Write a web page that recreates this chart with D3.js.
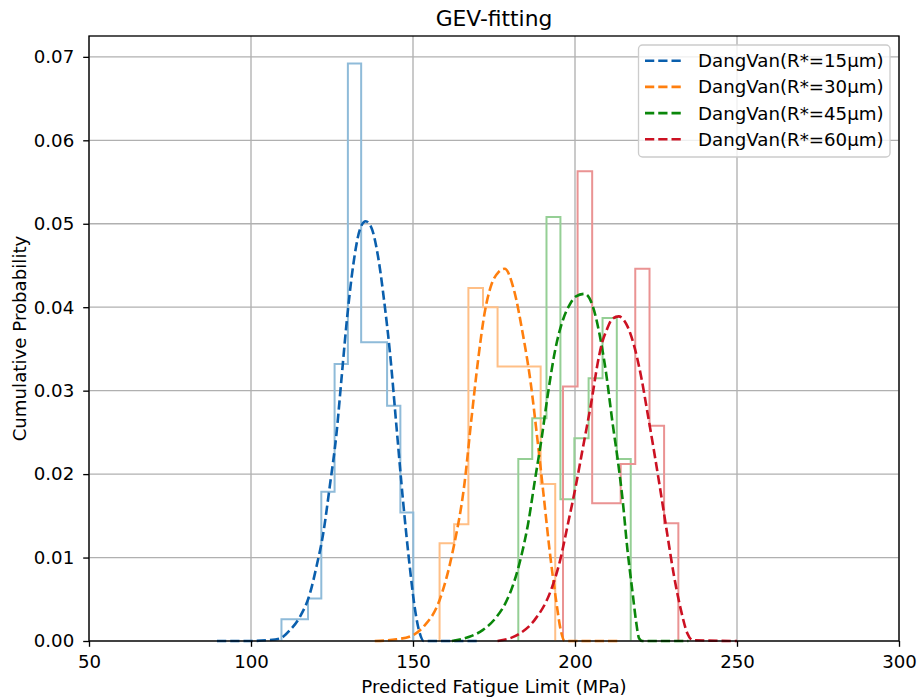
<!DOCTYPE html>
<html><head><meta charset="utf-8">
<script src="https://cdn.jsdelivr.net/npm/d3@7"></script>
<style>body{margin:0;background:#fff}svg text{font-family:"DejaVu Sans",sans-serif;fill:#000}</style>
</head><body><svg id="c" width="919" height="699"></svg>
<script>
// ---- data ----
const seriesNames = ["DangVan(R*=15μm)","DangVan(R*=30μm)","DangVan(R*=45μm)","DangVan(R*=60μm)"];
const curveColors = ["#0a5fad","#ff7f0e","#0a870a","#cc1122"];
const histColors  = ["#8fbbd9","#ffbf86","#95cf95","#ea9393"];

const blueEdges   = [109.4,113.5,117.6,121.7,125.8,129.9,134.0,138.0,142.0,146.1,150.1];
const blueDensity = [0.0026,0.0026,0.0051,0.0179,0.0332,0.0692,0.0358,0.0358,0.0282,0.0154];
const orangeEdges   = [158.2,162.7,167.1,171.6,176.1,180.5,185.0,189.4,193.9];
const orangeDensity = [0.0117,0.0140,0.0423,0.0400,0.0329,0.0329,0.0329,0.0188];
const greenEdges   = [182.5,186.8,191.2,195.5,199.8,204.2,208.5,212.9,217.2];
const greenDensity = [0.0218,0.0267,0.0508,0.0170,0.0243,0.0315,0.0387,0.0218];
const redEdges   = [196.3,200.8,205.3,209.7,214.1,218.6,223.0,227.5,231.9];
const redDensity = [0.0305,0.0563,0.0165,0.0165,0.0212,0.0446,0.0258,0.0141];

const blueCurveX = [89.5,100,105,108.9,112.0,115.1,118.2,120.2,122.3,124.3,126.4,127.9,129.5,131.5,133.6,135.4,137.2,139.2,141.3,142.8,144.9,146.9,149.0,150.5,152.1,153.3,160,170];
const blueCurveY = [0,0,0.0001,0.0003,0.0013,0.0029,0.0057,0.0089,0.0129,0.0185,0.0249,0.0313,0.0381,0.0449,0.0493,0.0503,0.0495,0.0461,0.0401,0.0349,0.0257,0.0169,0.0089,0.0041,0.0009,0,0,0];
const orangeCurveX = [138.2,144.9,150.0,153.2,158.3,162.4,165.9,168.0,170.1,172.1,174.2,176.4,178.3,181.2,183.8,186.3,188.3,190.25,192.15,194.15,195.6,196.8,205,214];
const orangeCurveY = [0,0.0002,0.0007,0.0017,0.0050,0.0110,0.0189,0.0265,0.0337,0.0393,0.0427,0.0442,0.0446,0.0420,0.0370,0.0310,0.0245,0.0177,0.0109,0.0049,0.0013,0,0,0];
const greenCurveX = [162,167.4,171.5,175.6,178.5,181.3,183.5,185.5,187.6,189.7,191.6,193.9,196.3,198.2,200.3,203.0,205.5,207.5,209.6,211.6,213.2,214.7,216.2,217.8,218.8,219.8,220.8,235];
const greenCurveY = [0,0.0005,0.0013,0.0028,0.0045,0.0072,0.0103,0.0140,0.0192,0.0243,0.0295,0.0349,0.0385,0.0402,0.0413,0.0416,0.0401,0.0369,0.0321,0.0261,0.0217,0.0169,0.0109,0.0057,0.0025,0.0003,0,0];
const redCurveX = [176.1,183.0,187.5,192.5,195.3,197.8,200.2,202.6,205.2,207.0,208.2,209.8,211.5,213.5,216.2,218.3,220.4,222.4,224.5,226.5,228.6,230.6,232.7,234.7,236.3,250];
const redCurveY = [0,0.0009,0.0025,0.0060,0.0095,0.0140,0.0185,0.0235,0.0290,0.0333,0.0355,0.0373,0.0386,0.0389,0.0377,0.0353,0.0317,0.0273,0.0225,0.0177,0.0125,0.0077,0.0037,0.0009,0.0001,0];

const xTicks = [50,100,150,200,250,300];
const yTicks = [0,0.01,0.02,0.03,0.04,0.05,0.06,0.07];
const titleText = "GEV-fitting";
const xLabel = "Predicted Fatigue Limit (MPa)";
const yLabel = "Cumulative Probability";

// ---- layout ----
const L=89,R=899,T=36,B=641;
const x = d3.scaleLinear().domain([50,300]).range([L,R]);
const y = d3.scaleLinear().domain([0,0.0725]).range([B,T]);
const svg = d3.select("#c");
const FS = 18.2;

// grid
const g = svg.append("g");
g.selectAll(".gx").data(xTicks).join("line")
  .attr("x1",d=>x(d)).attr("x2",d=>x(d)).attr("y1",T).attr("y2",B)
  .attr("stroke","#b0b0b0").attr("stroke-width",1.33);
g.selectAll(".gy").data(yTicks).join("line")
  .attr("x1",L).attr("x2",R).attr("y1",d=>y(d)).attr("y2",d=>y(d))
  .attr("stroke","#b0b0b0").attr("stroke-width",1.33);

// histograms (step)
const hists = [[blueEdges,blueDensity],[orangeEdges,orangeDensity],[greenEdges,greenDensity],[redEdges,redDensity]];
hists.forEach(([e,d],i)=>{
  const pts=[[e[0],0]];
  d.forEach((v,k)=>{pts.push([e[k],v]);pts.push([e[k+1],v]);});
  pts.push([e[e.length-1],0]);
  svg.append("path")
    .attr("d",d3.line().x(p=>x(p[0])).y(p=>y(p[1]))(pts))
    .attr("fill","none").attr("stroke",histColors[i]).attr("stroke-width",2)
    .attr("stroke-linejoin","miter");
});

// curves
const curves = [[blueCurveX,blueCurveY],[orangeCurveX,orangeCurveY],[greenCurveX,greenCurveY],[redCurveX,redCurveY]];
const lineGen = d3.line().x(p=>x(p[0])).y(p=>y(p[1])).curve(d3.curveMonotoneX);
curves.forEach(([cx,cy],i)=>{
  const pts = cx.map((v,k)=>[v,cy[k]]);
  svg.append("path").attr("d",lineGen(pts))
    .attr("fill","none").attr("stroke",curveColors[i]).attr("stroke-width",2.6)
    .attr("stroke-dasharray","9.25,4");
});

// frame
svg.append("rect").attr("x",L).attr("y",T).attr("width",R-L).attr("height",B-T)
  .attr("fill","none").attr("stroke","#000").attr("stroke-width",1.33);

// axes
const xa = svg.append("g").attr("transform",`translate(0,${B})`)
  .call(d3.axisBottom(x).tickValues(xTicks).tickSize(5.8).tickPadding(6).tickFormat(d3.format("d")));
const ya = svg.append("g").attr("transform",`translate(${L},0)`)
  .call(d3.axisLeft(y).tickValues(yTicks).tickSize(5.8).tickPadding(9).tickFormat(d3.format(".2f")));
[xa,ya].forEach(a=>{
  a.select(".domain").remove();
  a.selectAll(".tick line").attr("stroke","#000").attr("stroke-width",1.33);
  a.selectAll(".tick text").attr("font-size",FS).attr("font-family","DejaVu Sans").attr("fill","#000");
});
xa.selectAll(".tick text").attr("dy",null).attr("y",26.5).attr("dominant-baseline","auto");

// labels
svg.append("text").attr("x",(L+R)/2).attr("y",26).attr("text-anchor","middle")
  .attr("font-size",21.8).text(titleText);
svg.append("text").attr("x",(L+R)/2).attr("y",693).attr("text-anchor","middle")
  .attr("font-size",FS).text(xLabel);
svg.append("text").attr("transform",`translate(25.5,${(T+B)/2}) rotate(-90)`)
  .attr("text-anchor","middle").attr("font-size",FS).text(yLabel);

// legend
const lg = svg.append("g");
lg.append("rect").attr("x",638.5).attr("y",45).attr("width",251.5).attr("height",112).attr("rx",4)
  .attr("fill","#fff").attr("fill-opacity",0.8).attr("stroke","#cccccc").attr("stroke-width",1.33);
seriesNames.forEach((n,i)=>{
  const cy = 60.7 + i*26.2;
  lg.append("line").attr("x1",645).attr("x2",683).attr("y1",cy).attr("y2",cy)
    .attr("stroke",curveColors[i]).attr("stroke-width",2.6).attr("stroke-dasharray","9.25,4");
  lg.append("text").attr("x",698).attr("y",cy).attr("dominant-baseline","central")
    .attr("font-size",FS).text(n);
});
</script></body></html>
